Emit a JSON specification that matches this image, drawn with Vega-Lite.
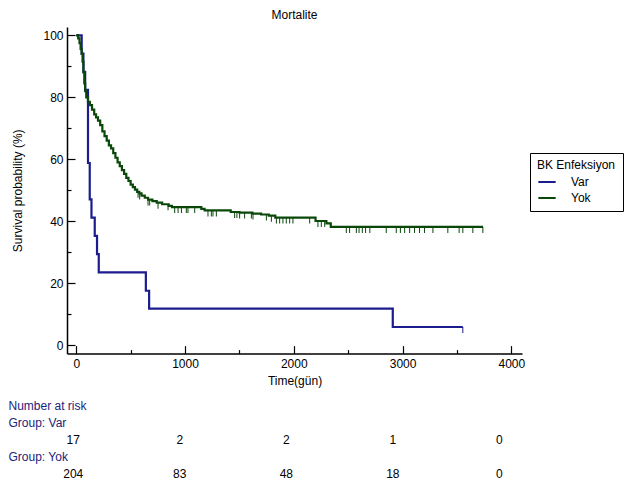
{
  "$schema": "https://vega.github.io/schema/vega-lite/v6.json",
  "padding": {"left": 8, "top": 9, "right": 0, "bottom": 0},
  "background": "white",
  "config": {
    "font": "Liberation Sans",
    "view": {"stroke": null},
    "axis": {
      "labelFont": "Liberation Sans", "labelFontSize": 12, "labelColor": "black",
      "titleFont": "Liberation Sans", "titleFontSize": 12, "titleFontWeight": "normal", "titleColor": "black",
      "domainColor": "black", "tickColor": "black", "grid": false, "labelFlush": false
    }
  },
  "datasets": {
    "curve": [
      {"g": "Var", "t": 0, "s": 100}, {"g": "Var", "t": 50, "s": 94.1}, {"g": "Var", "t": 66, "s": 88.2},
      {"g": "Var", "t": 82, "s": 82.4}, {"g": "Var", "t": 108, "s": 58.8}, {"g": "Var", "t": 124, "s": 47.1},
      {"g": "Var", "t": 140, "s": 41.2}, {"g": "Var", "t": 170, "s": 35.3}, {"g": "Var", "t": 191, "s": 29.4},
      {"g": "Var", "t": 207, "s": 23.5}, {"g": "Var", "t": 640, "s": 17.6}, {"g": "Var", "t": 670, "s": 11.8},
      {"g": "Var", "t": 2910, "s": 5.9}, {"g": "Var", "t": 3554, "s": 5.9},
      {"g": "Yok", "t": 0, "s": 100}, {"g": "Yok", "t": 18, "s": 99}, {"g": "Yok", "t": 30, "s": 97.5},
      {"g": "Yok", "t": 40, "s": 95.6}, {"g": "Yok", "t": 50, "s": 94}, {"g": "Yok", "t": 58, "s": 91.5},
      {"g": "Yok", "t": 66, "s": 88}, {"g": "Yok", "t": 74, "s": 84.5}, {"g": "Yok", "t": 82, "s": 82},
      {"g": "Yok", "t": 92, "s": 80}, {"g": "Yok", "t": 108, "s": 78.5}, {"g": "Yok", "t": 125, "s": 77.5},
      {"g": "Yok", "t": 145, "s": 76}, {"g": "Yok", "t": 165, "s": 74.5}, {"g": "Yok", "t": 182, "s": 73.5},
      {"g": "Yok", "t": 200, "s": 72.5}, {"g": "Yok", "t": 220, "s": 71}, {"g": "Yok", "t": 240, "s": 69},
      {"g": "Yok", "t": 260, "s": 67.5}, {"g": "Yok", "t": 280, "s": 66}, {"g": "Yok", "t": 300, "s": 64.5},
      {"g": "Yok", "t": 320, "s": 63.5}, {"g": "Yok", "t": 340, "s": 62}, {"g": "Yok", "t": 360, "s": 60.5},
      {"g": "Yok", "t": 380, "s": 59}, {"g": "Yok", "t": 400, "s": 57.8}, {"g": "Yok", "t": 420, "s": 56.5},
      {"g": "Yok", "t": 440, "s": 55.3}, {"g": "Yok", "t": 460, "s": 54}, {"g": "Yok", "t": 480, "s": 53},
      {"g": "Yok", "t": 500, "s": 51.8}, {"g": "Yok", "t": 520, "s": 51}, {"g": "Yok", "t": 540, "s": 50.2},
      {"g": "Yok", "t": 560, "s": 49.5}, {"g": "Yok", "t": 580, "s": 49}, {"g": "Yok", "t": 600, "s": 48.3},
      {"g": "Yok", "t": 630, "s": 47.6}, {"g": "Yok", "t": 660, "s": 47}, {"g": "Yok", "t": 700, "s": 46.5},
      {"g": "Yok", "t": 740, "s": 46}, {"g": "Yok", "t": 790, "s": 45.5}, {"g": "Yok", "t": 850, "s": 45},
      {"g": "Yok", "t": 880, "s": 44.6}, {"g": "Yok", "t": 1150, "s": 44}, {"g": "Yok", "t": 1180, "s": 43.5},
      {"g": "Yok", "t": 1420, "s": 43}, {"g": "Yok", "t": 1500, "s": 42.8}, {"g": "Yok", "t": 1620, "s": 42.5},
      {"g": "Yok", "t": 1700, "s": 42.2}, {"g": "Yok", "t": 1770, "s": 41.8}, {"g": "Yok", "t": 1830, "s": 41.2},
      {"g": "Yok", "t": 2200, "s": 40.1}, {"g": "Yok", "t": 2300, "s": 39.3}, {"g": "Yok", "t": 2340, "s": 38.2},
      {"g": "Yok", "t": 3740, "s": 38.2}
    ],
    "censor": [
      {"g": "Var", "t": 3554, "s": 5.9},
      {"g": "Yok", "t": 568, "s": 49.5}, {"g": "Yok", "t": 583, "s": 49}, {"g": "Yok", "t": 660, "s": 47},
      {"g": "Yok", "t": 675, "s": 47}, {"g": "Yok", "t": 752, "s": 46}, {"g": "Yok", "t": 844, "s": 45.5},
      {"g": "Yok", "t": 905, "s": 44.6}, {"g": "Yok", "t": 936, "s": 44.6}, {"g": "Yok", "t": 967, "s": 44.6},
      {"g": "Yok", "t": 1012, "s": 44.6}, {"g": "Yok", "t": 1027, "s": 44.6}, {"g": "Yok", "t": 1089, "s": 44.6},
      {"g": "Yok", "t": 1211, "s": 43.5}, {"g": "Yok", "t": 1242, "s": 43.5}, {"g": "Yok", "t": 1257, "s": 43.5},
      {"g": "Yok", "t": 1288, "s": 43.5}, {"g": "Yok", "t": 1456, "s": 43}, {"g": "Yok", "t": 1477, "s": 43},
      {"g": "Yok", "t": 1502, "s": 42.8}, {"g": "Yok", "t": 1548, "s": 42.8}, {"g": "Yok", "t": 1610, "s": 42.8},
      {"g": "Yok", "t": 1625, "s": 42.5}, {"g": "Yok", "t": 1748, "s": 42.2}, {"g": "Yok", "t": 1794, "s": 41.8},
      {"g": "Yok", "t": 1840, "s": 41.2}, {"g": "Yok", "t": 1870, "s": 41.2}, {"g": "Yok", "t": 1900, "s": 41.2},
      {"g": "Yok", "t": 1931, "s": 41.2}, {"g": "Yok", "t": 1962, "s": 41.2}, {"g": "Yok", "t": 1992, "s": 41.2},
      {"g": "Yok", "t": 2146, "s": 41.2}, {"g": "Yok", "t": 2222, "s": 40.1}, {"g": "Yok", "t": 2253, "s": 40.1},
      {"g": "Yok", "t": 2284, "s": 40.1}, {"g": "Yok", "t": 2483, "s": 38.2}, {"g": "Yok", "t": 2513, "s": 38.2},
      {"g": "Yok", "t": 2575, "s": 38.2}, {"g": "Yok", "t": 2600, "s": 38.2}, {"g": "Yok", "t": 2630, "s": 38.2},
      {"g": "Yok", "t": 2660, "s": 38.2}, {"g": "Yok", "t": 2699, "s": 38.2}, {"g": "Yok", "t": 2850, "s": 38.2},
      {"g": "Yok", "t": 2942, "s": 38.2}, {"g": "Yok", "t": 2980, "s": 38.2}, {"g": "Yok", "t": 3019, "s": 38.2},
      {"g": "Yok", "t": 3065, "s": 38.2}, {"g": "Yok", "t": 3110, "s": 38.2}, {"g": "Yok", "t": 3156, "s": 38.2},
      {"g": "Yok", "t": 3202, "s": 38.2}, {"g": "Yok", "t": 3279, "s": 38.2}, {"g": "Yok", "t": 3416, "s": 38.2},
      {"g": "Yok", "t": 3520, "s": 38.2}, {"g": "Yok", "t": 3554, "s": 38.2}, {"g": "Yok", "t": 3646, "s": 38.2},
      {"g": "Yok", "t": 3738, "s": 38.2}
    ],
    "risk": [
      {"row": "Var", "t": 0, "n": 17}, {"row": "Var", "t": 1000, "n": 2}, {"row": "Var", "t": 2000, "n": 2},
      {"row": "Var", "t": 3000, "n": 1}, {"row": "Var", "t": 4000, "n": 0},
      {"row": "Yok", "t": 0, "n": 204}, {"row": "Yok", "t": 1000, "n": 83}, {"row": "Yok", "t": 2000, "n": 48},
      {"row": "Yok", "t": 3000, "n": 18}, {"row": "Yok", "t": 4000, "n": 0}
    ]
  },
  "spacing": 10,
  "vconcat": [
    {
      "width": 455,
      "height": 326.6,
      "title": {"text": "Mortalite", "fontSize": 12, "fontWeight": "normal", "color": "black", "anchor": "middle", "frame": "group", "offset": 5},
      "encoding": {
        "x": {
          "field": "t", "type": "quantitative",
          "scale": {"domain": [-85, 4098], "nice": false, "zero": false},
          "axis": {
            "title": "Time(gün)",
            "values": [0, 500, 1000, 1500, 2000, 2500, 3000, 3500, 4000],
            "format": "d",
            "labelExpr": "datum.value % 1000 === 0 ? datum.label : ''",
            "tickSize": {"condition": {"test": "datum.value % 1000 === 0", "value": -8}, "value": -4},
            "labelPadding": 13, "titlePadding": 6, "domainWidth": 1.5, "tickWidth": 1.2
          }
        },
        "y": {
          "field": "s", "type": "quantitative",
          "scale": {"domain": [-2.68, 102.68], "nice": false, "zero": false},
          "axis": {
            "title": "Survival probability (%)",
            "values": [0, 10, 20, 30, 40, 50, 60, 70, 80, 90, 100],
            "labelExpr": "datum.value % 20 === 0 ? datum.label : ''",
            "tickSize": {"condition": {"test": "datum.value % 20 === 0", "value": -8}, "value": -4},
            "labelPadding": 12, "titlePadding": 18, "domainWidth": 1.5, "tickWidth": 1.2
          }
        },
        "color": {
          "field": "g", "type": "nominal",
          "scale": {"domain": ["Var", "Yok"], "range": ["#1c1c8e", "#0a480a"]},
          "legend": {
            "orient": "none", "legendX": 463, "legendY": 126,
            "title": "BK Enfeksiyon", "strokeColor": "black", "fillColor": "white", "padding": 7,
            "symbolType": "stroke", "symbolSize": 300, "symbolStrokeWidth": 2, "labelOffset": 14,
            "titleFontSize": 12, "titleFontWeight": "normal", "titleColor": "black",
            "labelFontSize": 12, "labelColor": "black", "rowPadding": 0, "titlePadding": 0
          }
        }
      },
      "layer": [
        {
          "data": {"name": "curve"},
          "mark": {"type": "line", "interpolate": "step-after", "strokeWidth": 2.2},
          "encoding": {"detail": {"field": "g"}}
        },
        {
          "data": {"name": "censor"},
          "mark": {"type": "tick", "orient": "vertical", "size": 6, "thickness": 1, "yOffset": 3, "opacity": 1},
          "encoding": {}
        }
      ]
    },
    {
      "width": 455,
      "height": 85.5,
      "data": {"name": "risk"},
      "mark": {"type": "text", "fontSize": 12, "align": "center", "baseline": "middle", "color": "black"},
      "encoding": {
        "x": {"field": "t", "type": "quantitative", "scale": {"domain": [-59, 4213], "nice": false, "zero": false}, "axis": null},
        "y": {
          "field": "row", "type": "nominal",
          "scale": {"type": "point", "domain": ["Number at risk", "Group: Var", "Var", "Group: Yok", "Yok"], "padding": 0.5},
          "axis": {
            "title": null, "domain": false, "ticks": false, "labelAlign": "left", "labelPadding": 59,
            "labelBaseline": "middle", "labelColor": "#22227a", "labelFontSize": 12,
            "labelExpr": "datum.value === 'Var' || datum.value === 'Yok' ? '' : datum.value"
          }
        },
        "text": {"field": "n", "type": "quantitative"}
      }
    }
  ]
}
